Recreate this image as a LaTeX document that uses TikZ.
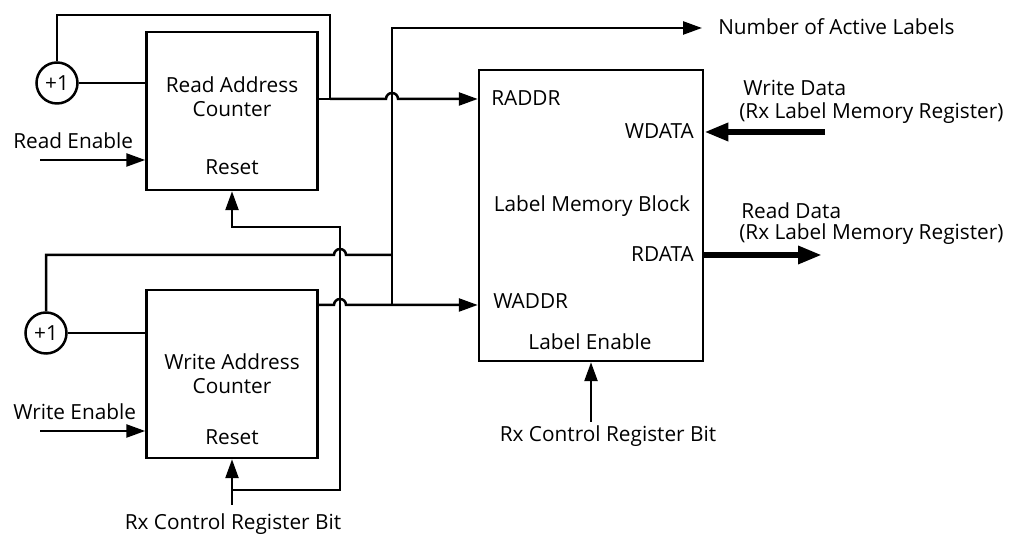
\documentclass[tikz,border=0pt]{standalone}
\usepackage{fontspec}
\setmainfont{Open Sans}
\usetikzlibrary{arrows.meta,positioning}
\tikzset{
  blk/.style={draw, minimum width=171pt, inner sep=0pt},
  inc/.style={draw, circle, minimum size=41pt, inner sep=0pt},
  txt/.style={inner sep=0pt, anchor=base},
  sig/.style={-{Triangle[length=19pt,width=13pt]}},
  bus/.style={line width=6pt, -{Triangle[length=24pt,width=17pt]}},
}
\begin{document}
\begin{tikzpicture}[x=1pt, y=1pt, line width=2.5pt, font=\fontsize{20.8}{24}\selectfont]
  \useasboundingbox (0,0) rectangle (1011,534);
  % blocks
  \node[blk, minimum height=158pt] (rd) at (232,423) {};
  \node[blk, minimum height=168pt] (wr) at (232,160) {};
  \node[draw, minimum width=224pt, minimum height=291pt, inner sep=0pt] (mem) at (591,318.5) {};
  \node[inc] (incR) at (57,451) {+1};
  \node[inc] (incW) at (46,201) {+1};
  % texts in the blocks
  \node[txt] (rdA) at (232,441) {Read Address};
  \node[txt] (rdB) at (232,417) {Counter};
  \node[txt] (rdC) at (232,359) {Reset};
  \node[txt] (wrA) at (232,164) {Write Address};
  \node[txt] (wrB) at (232,140) {Counter};
  \node[txt] (wrC) at (232,89) {Reset};
  \node[txt, anchor=base west] (raddr) at (490,428) {RADDR};
  \node[txt, anchor=base east] (wdata) at (695,395) {WDATA};
  \node[txt] (memA) at (592,322) {Label Memory Block};
  \node[txt, anchor=base east] (rdata) at (695,272) {RDATA};
  \node[txt, anchor=base west] (waddr) at (492,225) {WADDR};
  \node[txt] (lblEn) at (590,184) {Label Enable};
  % outside texts
  \node[txt, anchor=base west] (renT) at (12,385) {Read Enable};
  \node[txt, anchor=base west] (wenT) at (12,114) {Write Enable};
  \node[txt, anchor=base west] (nalT) at (717,499) {Number of Active Labels};
  \node[txt, anchor=base west] (wdT) at (742,438) {Write Data};
  \node[txt, anchor=base west] (wdU) at (738,415) {(Rx Label Memory Register)};
  \node[txt, anchor=base west] (rdT) at (740,315) {Read Data};
  \node[txt, anchor=base west] (rdU) at (738,294) {(Rx Label Memory Register)};
  \node[txt] (rxM) at (608,92) {Rx Control Register Bit};
  \node[txt] (rxW) at (233,4) {Rx Control Register Bit};
  % wire points
  \coordinate (rTap) at (330,435);
  \coordinate (railR) at (330,519);
  \coordinate (nal) at (392,506);
  \coordinate (wTap) at (392,229);
  \coordinate (fbW) at (392,279);
  \coordinate (rxIn) at (232,29);
  \coordinate (rxSplit) at (232,44);
  \coordinate (renIn) at (40,374);
  \coordinate (wenIn) at (40,103);
  \coordinate (wdIn) at (825,402);
  \coordinate (rdOut) at (822,279);
  \coordinate (leIn) at (591,112);
  % read counter loop
  \draw (incR) -- (incR -| rd.west);
  \draw (rd.east |- rTap) -- (rTap) -- (railR) -| (incR.north);
  \draw[sig] (rTap) -- ++(56,0) arc[start angle=180, end angle=0, radius=6] -- (mem.west |- rTap);
  % write counter loop
  \draw (incW) -- (incW -| wr.west);
  \draw[sig] (wr.east |- wTap) -- (334,229) arc[start angle=180, end angle=0, radius=6] -- (wTap) -- (mem.west |- wTap);
  \draw (fbW) -- (346,279) arc[start angle=0, end angle=180, radius=6] -- (incW.north |- fbW) -- (incW.north);
  \draw[sig] (wTap) -- (nal) -- ([xshift=-15pt]nalT.west |- nal);
  % resets
  \draw[sig] (rxIn) -- (wr.south);
  \draw[sig] (rxSplit) -| (340,307) -| (rd.south);
  \draw[sig] (leIn) -- (mem.south);
  % enables
  \draw[sig] (renIn) -- (renIn -| rd.west);
  \draw[sig] (wenIn) -- (wenIn -| wr.west);
  % data
  \draw[bus] (wdIn) -- (wdIn -| mem.east);
  \draw[bus] (rdOut -| mem.east) -- (rdOut);
\end{tikzpicture}
\end{document}
